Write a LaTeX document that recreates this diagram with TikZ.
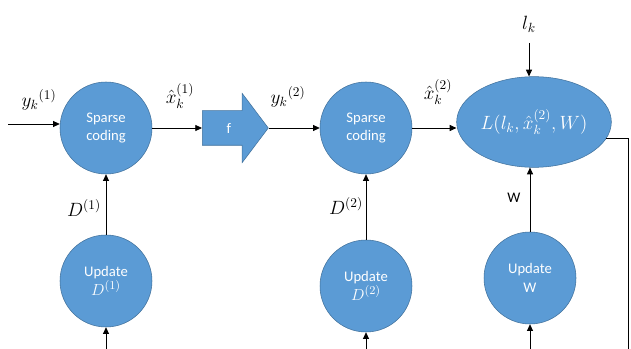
\documentclass[tikz,border=0pt]{standalone}
\usepackage{fontspec}
\setmainfont{Carlito}
\usetikzlibrary{arrows.meta,shapes.geometric,shapes.arrows}
\definecolor{nodeblue}{HTML}{5B9BD5}
\definecolor{nodeedge}{HTML}{41719C}

\begin{document}
\begin{tikzpicture}[
        x=0.75pt, y=-0.75pt,
        unit/.style={circle, draw=nodeedge, fill=nodeblue, text=white, minimum size=69pt, inner sep=0pt, align=center, font=\fontsize{11}{14}\selectfont},
        loss/.style={ellipse, draw=nodeedge, fill=nodeblue, text=white, minimum width=116pt, minimum height=68pt, inner sep=0pt, font=\fontsize{14}{16}\selectfont},
        fbox/.style={single arrow, draw=nodeedge, fill=nodeblue, text=white, text height=8pt, text depth=0pt, inner ysep=8.75pt, inner xsep=0pt, minimum height=49.5pt, single arrow head extend=13pt, single arrow tip angle=106, font=\fontsize{11}{13}\selectfont},
        lbl/.style={font=\fontsize{14}{16}\selectfont},
        arrow/.style={-{Triangle[length=5pt,width=4.5pt]}, line width=0.6pt}
    ]
        \useasboundingbox (0,0) rectangle (631,349);

        % Two coding stages and the loss
        \node[unit] (sc1) at (106,128) {Sparse\\coding};
        \node[fbox, anchor=tail] (f) at (202,128) {f};
        \node[unit] (sc2) at (366,128) {Sparse\\coding};
        \node[loss] (L) at (534,122) {$L\big(l_k, {\hat{x}_k}^{(2)}, W\big)$};

        % Update nodes
        \node[unit] (up1) at (106,281) {Update\\{\fontsize{13}{15}\selectfont$D^{(1)}$}};
        \node[unit] (up2) at (366,286) {Update\\{\fontsize{13}{15}\selectfont$D^{(2)}$}};
        \node[unit] (upW) at (530,278) {Update\\W};

        % Labels
        \node[lbl] (y1) at (39,100) {${y_k}^{(1)}$};
        \node[lbl] (xh1) at (180,96) {${\hat{x}_k}^{(1)}$};
        \node[lbl] (y2) at (288,97) {${y_k}^{(2)}$};
        \node[lbl] (xh2) at (438,92) {${\hat{x}_k}^{(2)}$};
        \node[lbl] (lk) at (529,24) {$l_k$};
        \node[lbl] (d1) at (84,208) {$D^{(1)}$};
        \node[lbl] (d2) at (346,206) {$D^{(2)}$};
        \node[font=\fontsize{11}{13}\selectfont] (wl) at (514,198) {W};

        % Free ends
        \coordinate (in1) at (8,124);
        \coordinate (lktop) at (529,43);
        \coordinate (b1) at (106,349);
        \coordinate (b2) at (366,349);
        \coordinate (b3) at (530,349);
        \coordinate (out) at (628,349);

        % Forward arrows
        \draw[arrow] (in1) -- (in1 -| sc1.west);
        \draw[arrow] (sc1.east) -- (f.tail);
        \draw[arrow] (f.tip) -- (sc2.west);
        \draw[arrow] (sc2.east) -- (sc2.east -| L.west);
        \draw[arrow] (lktop) -- (lktop |- L.north);

        % Arrows up
        \draw[arrow] (up1) -- (sc1);
        \draw[arrow] (up2) -- (sc2);
        \draw[arrow] (upW) -- (upW |- L.south);
        \draw[arrow] (b1) -- (up1);
        \draw[arrow] (b2) -- (up2);
        \draw[arrow] (b3) -- (upW);

        % Output of the loss
        \draw[line width=0.6pt] (L.-13) -| (out);

    \end{tikzpicture}
\end{document}
